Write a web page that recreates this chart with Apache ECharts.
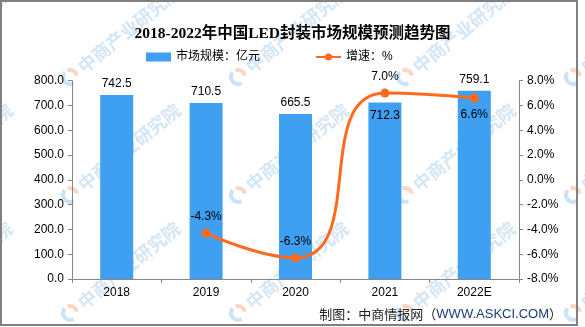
<!DOCTYPE html>
<html>
<head>
<meta charset="utf-8">
<script src="https://cdn.jsdelivr.net/npm/echarts@6/dist/echarts.min.js"></script>
<style>
html,body{margin:0;padding:0;background:#fff;}
#c{width:585px;height:327px;}
</style>
</head>
<body>
<div id="c"></div>
<script>
var categories = ['2018', '2019', '2020', '2021', '2022E'];
var marketSize = [742.5, 710.5, 665.5, 712.3, 759.1];
var growthRate = [null, -4.3, -6.3, 7.0, 6.6];
var leftTicks = [0, 800, 100];
var rightTicks = [-8, 8, 2];

var barLabelPos = ['top', 'top', 'top', 'insideTop', 'top'];
var lineLabelPos = ['top', 'top', 'top', 'top', 'bottom'];

var CJK = '"Liberation Sans", "Noto Sans CJK SC", sans-serif';
var BAR = '#3F9FF1';
var LINE = '#FF6A1F';

var chart = echarts.init(document.getElementById('c'), null, {renderer: 'canvas'});

var barData = marketSize.map(function (v, i) {
  return {value: v, label: {position: barLabelPos[i], distance: barLabelPos[i] === 'insideTop' ? 7 : 5}};
});
var lineData = growthRate.map(function (v, i) {
  return {value: v, label: {position: lineLabelPos[i], distance: 6}};
});

// watermarks
var wm = [];
var cols = [-98, 70, 238, 405, 573];
var rows = [77, 195, 313];
cols.forEach(function (cx) {
  rows.forEach(function (cy) {
    wm.push({
      type: 'group',
      x: cx, y: cy,
      rotation: 39 * Math.PI / 180,
      z: 100,
      silent: true,
      children: [
        {type: 'arc', shape: {cx: 0, cy: 0, r: 7, startAngle: 0.55 * Math.PI, endAngle: 1.45 * Math.PI},
         style: {stroke: '#8fbfe8', lineWidth: 4, fill: null, opacity: 0.45}},
        {type: 'arc', shape: {cx: 0, cy: 0, r: 7, startAngle: 1.6 * Math.PI, endAngle: 2.15 * Math.PI},
         style: {stroke: '#f5a27a', lineWidth: 4, fill: null, opacity: 0.45}},
        {type: 'text', x: 13, y: 0,
         style: {text: '中商产业研究院', font: 'bold 18px "Noto Sans CJK SC", sans-serif',
                 fill: '#a8cdee', opacity: 0.5, verticalAlign: 'middle', align: 'left'}}
      ]
    });
  });
});
wm.push({
  type: 'rect', z: 110, silent: true,
  shape: {x: 1, y: 1, width: 576, height: 324},
  style: {fill: null, stroke: '#808080', lineWidth: 2}
});

var option = {
  animation: false,
  backgroundColor: '#fff',
  title: [{
    text: '2018-2022年中国LED封装市场规模预测趋势图',
    left: 'center', top: 21,
    textStyle: {fontSize: 15.5, fontWeight: 'bold', color: '#000', fontFamily: '"Liberation Serif", "Noto Sans CJK SC", serif'}
  }, {
    text: '{a|制图：中商情报网（}{b|WWW.ASKCI.COM}{a|）}',
    right: 18, top: 303,
    textStyle: {
      rich: {
        a: {fontSize: 13, color: '#222', fontWeight: 'normal', fontFamily: '"Noto Sans CJK SC", sans-serif'},
        b: {fontSize: 13, color: '#1c3a7a', fontWeight: 'normal', fontFamily: '"Liberation Sans", Arial, sans-serif'}
      }
    }
  }],
  legend: {
    left: 141, top: 46,
    itemWidth: 25, itemHeight: 9, itemGap: 55,
    textStyle: {fontSize: 12, color: '#000', fontFamily: CJK},
    data: [
      {name: '市场规模：亿元', icon: 'rect'},
      {name: '增速：%'}
    ]
  },
  grid: {left: 72, right: 66, top: 80.7, bottom: 48, containLabel: false},
  xAxis: {
    type: 'category',
    data: categories,
    boundaryGap: true,
    axisLine: {lineStyle: {color: '#868686', width: 1}},
    axisTick: {show: true, length: 4, lineStyle: {color: '#868686'}},
    axisLabel: {color: '#000', fontSize: 12, margin: 8, fontFamily: CJK}
  },
  yAxis: [{
    type: 'value',
    min: leftTicks[0], max: leftTicks[1], interval: leftTicks[2],
    axisLine: {show: true, lineStyle: {color: '#868686'}},
    axisTick: {show: true, length: 4, lineStyle: {color: '#868686'}},
    splitLine: {show: false},
    axisLabel: {color: '#000', fontSize: 12, margin: 8, fontFamily: CJK,
      formatter: function (v) { return v.toFixed(1); }}
  }, {
    type: 'value',
    min: rightTicks[0], max: rightTicks[1], interval: rightTicks[2],
    position: 'right',
    axisLine: {show: true, lineStyle: {color: '#868686'}},
    axisTick: {show: true, length: 4, lineStyle: {color: '#868686'}},
    splitLine: {show: false},
    axisLabel: {color: '#000', fontSize: 12, margin: 8, fontFamily: CJK,
      formatter: function (v) { return v.toFixed(1) + '%'; }}
  }],
  series: [{
    name: '市场规模：亿元',
    type: 'bar',
    yAxisIndex: 0,
    barWidth: 33,
    itemStyle: {color: BAR},
    label: {show: true, color: '#000', fontSize: 12, fontFamily: CJK,
      formatter: function (p) { return p.value.toFixed(1); }},
    data: barData
  }, {
    name: '增速：%',
    type: 'line',
    yAxisIndex: 1,
    smooth: 0.6,
    connectNulls: false,
    symbol: 'circle',
    symbolSize: 9,
    lineStyle: {color: LINE, width: 3},
    itemStyle: {color: LINE},
    label: {show: true, color: '#000', fontSize: 12, fontFamily: CJK,
      formatter: function (p) { return p.value.toFixed(1) + '%'; }},
    data: lineData
  }],
  graphic: wm
};
chart.setOption(option);
</script>
</body>
</html>
